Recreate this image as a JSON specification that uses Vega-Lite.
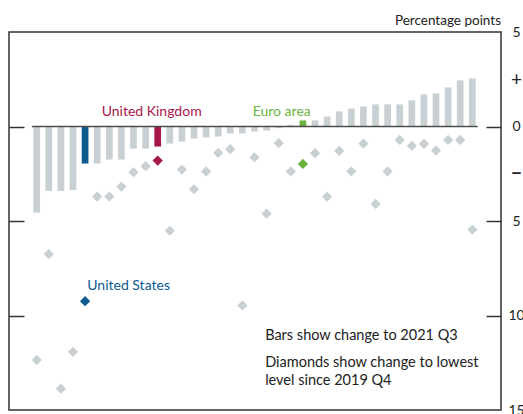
{
  "$schema": "https://vega.github.io/schema/vega-lite/v6.json",
  "width": 492,
  "height": 378,
  "autosize": {"type": "none"},
  "padding": {"left": 9, "top": 32, "right": 22, "bottom": 4},
  "background": "white",
  "config": {
    "view": {"stroke": "#333333", "strokeWidth": 1.5},
    "font": "Lato",
    "text": {"font": "Lato"}
  },
  "title": {
    "text": "Percentage points",
    "anchor": "end",
    "frame": "group",
    "font": "Lato",
    "fontSize": 13.5,
    "fontWeight": "normal",
    "color": "#222222",
    "offset": -2
  },
  "datasets": {
    "main": [
      {"i": 1, "bar": -4.56, "dia": -12.35, "group": "Other"},
      {"i": 2, "bar": -3.41, "dia": -6.75, "group": "Other"},
      {"i": 3, "bar": -3.41, "dia": -13.87, "group": "Other"},
      {"i": 4, "bar": -3.36, "dia": -11.92, "group": "Other"},
      {"i": 5, "bar": -1.96, "dia": -9.24, "group": "United States"},
      {"i": 6, "bar": -1.96, "dia": -3.71, "group": "Other"},
      {"i": 7, "bar": -1.75, "dia": -3.71, "group": "Other"},
      {"i": 8, "bar": -1.75, "dia": -3.18, "group": "Other"},
      {"i": 9, "bar": -1.17, "dia": -2.42, "group": "Other"},
      {"i": 10, "bar": -1.17, "dia": -2.10, "group": "Other"},
      {"i": 11, "bar": -1.06, "dia": -1.80, "group": "United Kingdom"},
      {"i": 12, "bar": -0.90, "dia": -5.51, "group": "Other"},
      {"i": 13, "bar": -0.80, "dia": -2.28, "group": "Other"},
      {"i": 14, "bar": -0.64, "dia": -3.32, "group": "Other"},
      {"i": 15, "bar": -0.58, "dia": -2.38, "group": "Other"},
      {"i": 16, "bar": -0.53, "dia": -1.40, "group": "Other"},
      {"i": 17, "bar": -0.37, "dia": -1.20, "group": "Other"},
      {"i": 18, "bar": -0.37, "dia": -9.47, "group": "Other"},
      {"i": 19, "bar": -0.27, "dia": -1.64, "group": "Other"},
      {"i": 20, "bar": -0.21, "dia": -4.61, "group": "Other"},
      {"i": 21, "bar": -0.09, "dia": -0.88, "group": "Other"},
      {"i": 22, "bar": 0.08, "dia": -2.38, "group": "Other"},
      {"i": 23, "bar": 0.32, "dia": -1.98, "group": "Euro area"},
      {"i": 24, "bar": 0.32, "dia": -1.41, "group": "Other"},
      {"i": 25, "bar": 0.53, "dia": -3.71, "group": "Other"},
      {"i": 26, "bar": 0.80, "dia": -1.29, "group": "Other"},
      {"i": 27, "bar": 0.95, "dia": -2.37, "group": "Other"},
      {"i": 28, "bar": 1.06, "dia": -0.90, "group": "Other"},
      {"i": 29, "bar": 1.17, "dia": -4.10, "group": "Other"},
      {"i": 30, "bar": 1.17, "dia": -2.38, "group": "Other"},
      {"i": 31, "bar": 1.17, "dia": -0.71, "group": "Other"},
      {"i": 32, "bar": 1.38, "dia": -1.02, "group": "Other"},
      {"i": 33, "bar": 1.70, "dia": -0.92, "group": "Other"},
      {"i": 34, "bar": 1.75, "dia": -1.27, "group": "Other"},
      {"i": 35, "bar": 2.07, "dia": -0.71, "group": "Other"},
      {"i": 36, "bar": 2.44, "dia": -0.71, "group": "Other"},
      {"i": 37, "bar": 2.54, "dia": -5.45, "group": "Other"}
    ],
    "zeroline": [
      {"x0": 0.6, "x1": 37.45, "y": 0}
    ],
    "labels": [
      {"i": 6.37, "y": 0.56, "text": "United Kingdom", "group": "United Kingdom"},
      {"i": 18.85, "y": 0.57, "text": "Euro area", "group": "Euro area"},
      {"i": 5.18, "y": -8.65, "text": "United States", "group": "United States"}
    ],
    "notes": [
      {"i": 19.88, "y": -11.30, "text": "Bars show change to 2021 Q3"},
      {"i": 19.88, "y": -12.72, "text": "Diamonds show change to lowest"},
      {"i": 19.88, "y": -13.70, "text": "level since 2019 Q4"}
    ]
  },
  "resolve": {"axis": {"y": "independent"}},
  "layer": [
    {
      "data": {"name": "main"},
      "mark": {"type": "bar", "width": 6.7},
      "encoding": {
        "x": {"field": "i", "type": "quantitative", "scale": {"domain": [-1.289, 39.37], "nice": false, "zero": false, "padding": 0}, "axis": null},
        "y": {
          "field": "bar", "type": "quantitative",
          "scale": {"domain": [-15, 5], "nice": false, "padding": 0},
          "axis": {
            "orient": "left",
            "values": [0, -5, -10],
            "tickSize": -15,
            "tickWidth": 1.5,
            "tickColor": "#333333",
            "labels": false,
            "domain": false,
            "grid": false,
            "title": null
          }
        },
        "y2": {"datum": 0},
        "color": {
          "field": "group", "type": "nominal",
          "scale": {"domain": ["Other", "United States", "United Kingdom", "Euro area"], "range": ["#c9d0d4", "#0d5a8f", "#a6174a", "#6ab43e"]},
          "legend": null
        }
      }
    },
    {
      "data": {"name": "zeroline"},
      "mark": {"type": "rule", "color": "#4d4d4d", "strokeWidth": 1.5},
      "encoding": {
        "x": {"field": "x0", "type": "quantitative"},
        "x2": {"field": "x1"},
        "y": {"field": "y", "type": "quantitative", "axis": null}
      }
    },
    {
      "data": {"name": "main"},
      "mark": {"type": "point", "shape": "diamond", "filled": true, "size": 105, "opacity": 1},
      "encoding": {
        "x": {"field": "i", "type": "quantitative"},
        "y": {
          "field": "dia", "type": "quantitative",
          "axis": {
            "orient": "right",
            "values": [5, 2.5, 0, -2.5, -5, -10, -15],
            "tickSize": -15,
            "tickWidth": 1.5,
            "tickColor": "#333333",
            "tickOpacity": {"condition": {"test": "abs(datum.value) == 2.5 || datum.value == 5 || datum.value == -15", "value": 0}, "value": 1},
            "labelExpr": "datum.value == 2.5 ? '+' : datum.value == -2.5 ? '−' : format(abs(datum.value), 'd')",
            "labelAlign": "center",
            "labelBaseline": "middle",
            "labelPadding": 30,
            "labelFont": "Lato",
            "labelFontSize": {"condition": {"test": "abs(datum.value) == 2.5", "value": 19}, "value": 14},
            "labelFontWeight": {"condition": {"test": "datum.value == -2.5", "value": "bold"}, "value": "normal"},
            "labelColor": "#222222",
            "labelFlush": false,
            "labelOverlap": false,
            "labelBound": false,
            "domain": false,
            "grid": false,
            "title": null
          }
        },
        "color": {"field": "group", "type": "nominal", "legend": null}
      }
    },
    {
      "data": {"name": "labels"},
      "mark": {"type": "text", "align": "left", "baseline": "alphabetic", "fontSize": 14, "font": "Lato"},
      "encoding": {
        "x": {"field": "i", "type": "quantitative"},
        "y": {"field": "y", "type": "quantitative", "axis": null},
        "text": {"field": "text"},
        "color": {"field": "group", "type": "nominal", "legend": null}
      }
    },
    {
      "data": {"name": "notes"},
      "mark": {"type": "text", "align": "left", "baseline": "alphabetic", "fontSize": 14.5, "font": "Lato", "color": "#222222"},
      "encoding": {
        "x": {"field": "i", "type": "quantitative"},
        "y": {"field": "y", "type": "quantitative", "axis": null},
        "text": {"field": "text"}
      }
    }
  ]
}
